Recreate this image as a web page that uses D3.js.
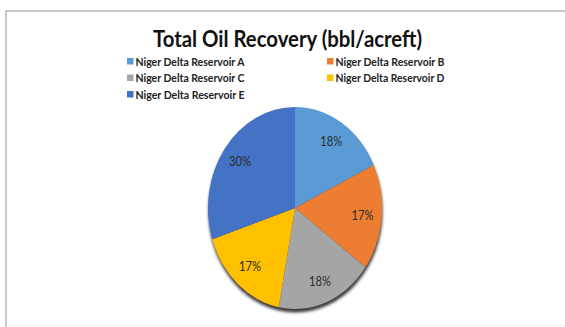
<!DOCTYPE html>
<html>
<head>
<meta charset="utf-8">
<script src="https://cdn.jsdelivr.net/npm/d3@7/dist/d3.min.js"></script>
<style>
  html, body { margin: 0; padding: 0; background: #fff; }
  svg { display: block; }
</style>
</head>
<body>
<svg id="chart" width="565" height="327"></svg>
<script>
// Total oil recovery share per reservoir
const categories = [
  "Niger Delta Reservoir A",
  "Niger Delta Reservoir B",
  "Niger Delta Reservoir C",
  "Niger Delta Reservoir D",
  "Niger Delta Reservoir E"
];
const values = [18, 17, 18, 17, 30];
const colors = ["#5b9bd5", "#ed7d31", "#a5a5a5", "#ffc000", "#4472c4"];
const titleText = "Total Oil Recovery (bbl/acreft)";

const svg = d3.select("#chart");
const W = 565, H = 327;

// frame lines along the top and left edges
svg.append("line").attr("x1", 5).attr("x2", W).attr("y1", 11).attr("y2", 11)
  .attr("stroke", "#c8c8c8").attr("stroke-width", 2);
svg.append("line").attr("x1", 6).attr("x2", 6).attr("y1", 10).attr("y2", H)
  .attr("stroke", "#c8c8c8").attr("stroke-width", 2);
svg.append("line").attr("x1", 7).attr("x2", W).attr("y1", 325.5).attr("y2", 325.5)
  .attr("stroke", "#f0f0f0").attr("stroke-width", 1);

// title
svg.append("text")
  .attr("x", 287.5).attr("y", 46.5)
  .attr("text-anchor", "middle")
  .attr("font-family", "Lato, 'Open Sans', sans-serif")
  .attr("font-weight", "bold")
  .attr("font-size", 22.5)
  .attr("fill", "#111")
  .attr("textLength", 269)
  .attr("lengthAdjust", "spacingAndGlyphs")
  .text(titleText);

// legend: two columns, three rows
const colX = d3.scaleOrdinal().domain([0, 1]).range([127, 327]);
const rowY = d3.scaleLinear().domain([0, 1]).range([65.5, 82]);
const legend = svg.append("g");
categories.forEach((c, i) => {
  const col = i % 2, row = Math.floor(i / 2);
  const g = legend.append("g")
    .attr("transform", `translate(${colX(col)},${rowY(row)})`);
  g.append("rect").attr("x", 0).attr("y", -7.5).attr("width", 6.5).attr("height", 6.5)
    .attr("fill", colors[i]);
  g.append("text").attr("x", 8.5).attr("y", 0)
    .attr("font-family", "Lato, 'Open Sans', sans-serif")
    .attr("font-weight", "bold")
    .attr("font-size", 12)
    .attr("fill", "#222")
    .attr("textLength", 109)
    .attr("lengthAdjust", "spacingAndGlyphs")
    .text(c);
});

// pie, drawn as a unit circle and stretched into an ellipse
const cx = 295, cy = 208, rx = 87, ry = 101;
const R = 100;
const pie = d3.pie().sort(null).value(d => d)(values);
const arc = d3.arc().innerRadius(0).outerRadius(R);
const labelArc = d3.arc().innerRadius(R * 0.78).outerRadius(R * 0.78);

const defs = svg.append("defs");
defs.append("filter").attr("id", "shadow").attr("x", "-20%").attr("y", "-20%")
  .attr("width", "140%").attr("height", "140%")
  .append("feGaussianBlur").attr("stdDeviation", 1.4);

svg.append("ellipse")
  .attr("cx", cx + 0.5).attr("cy", cy + 3.5).attr("rx", rx).attr("ry", ry)
  .attr("fill", "#3a3a3a").attr("filter", "url(#shadow)");

const pieG = svg.append("g")
  .attr("transform", `translate(${cx},${cy}) scale(${rx / R},${ry / R})`);
pieG.selectAll("path").data(pie).join("path")
  .attr("d", arc)
  .attr("fill", (d, i) => colors[i]);

const total = d3.sum(values);
svg.append("g").selectAll("text").data(pie).join("text")
  .attr("x", d => cx + labelArc.centroid(d)[0] * rx / R)
  .attr("y", d => cy + labelArc.centroid(d)[1] * ry / R)
  .attr("dy", "0.35em")
  .attr("text-anchor", "middle")
  .attr("font-family", "Lato, 'Open Sans', sans-serif")
  .attr("font-size", 12.5)
  .attr("fill", "#2a2a2a")
  .attr("textLength", 22)
  .attr("lengthAdjust", "spacingAndGlyphs")
  .text(d => Math.round(d.data / total * 100) + "%");
</script>
</body>
</html>
